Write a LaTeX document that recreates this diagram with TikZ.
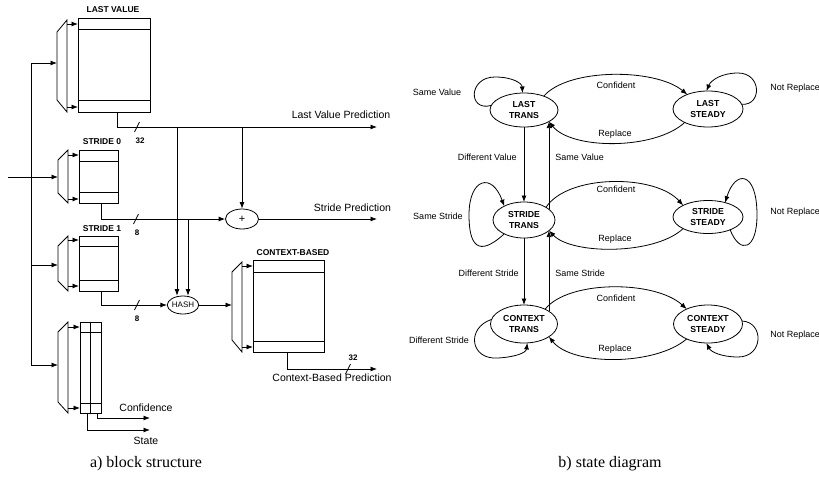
\documentclass[tikz,border=0pt]{standalone}
\usepackage{fontspec}
\setmainfont{Liberation Serif}
\setsansfont{Liberation Sans}
\usetikzlibrary{arrows.meta,shapes.geometric,calc}
\begin{document}
\begin{tikzpicture}[x=1pt,y=-1pt,
  line width=0.8pt,
  arr/.style={-{Latex[length=6.5pt,width=5pt]}},
  blk/.style={draw,rectangle,inner sep=0pt,outer sep=0pt},
  lbl/.style={font=\sffamily\fontsize{10.5}{12}\selectfont,inner sep=0pt},
  blbl/.style={font=\sffamily\bfseries\fontsize{8.5}{10}\selectfont,inner sep=0pt},
  num/.style={font=\sffamily\bfseries\fontsize{8}{9}\selectfont,inner sep=0pt},
  stnode/.style={draw,ellipse,inner sep=0pt,outer sep=0pt,align=center,font=\sffamily\bfseries\fontsize{8.7}{11}\selectfont},
  slbl/.style={font=\sffamily\fontsize{9}{10}\selectfont,inner sep=0pt},
  captxt/.style={font=\fontsize{16}{18}\selectfont,inner sep=0pt}
]
\useasboundingbox (0,0) rectangle (819,480);

% ---------------- a) block structure ----------------
% blocks
\node[blk,minimum width=72pt,minimum height=94pt] (lv) at (114,65) {};
\draw ($(lv.north west)+(0,11)$) -- ($(lv.north east)+(0,11)$);
\draw ($(lv.south west)+(0,-12)$) -- ($(lv.south east)+(0,-12)$);
\node[blbl] (lvl) at (113,10) {LAST VALUE};

\node[blk,minimum width=39pt,minimum height=53pt] (s0) at (98.5,176.5) {};
\draw ($(s0.north west)+(0,11)$) -- ($(s0.north east)+(0,11)$);
\draw ($(s0.south west)+(0,-11)$) -- ($(s0.south east)+(0,-11)$);
\node[blbl] (s0l) at (102,142) {STRIDE 0};

\node[blk,minimum width=39pt,minimum height=55pt] (s1) at (98.5,263.5) {};
\draw ($(s1.north west)+(0,10)$) -- ($(s1.north east)+(0,10)$);
\draw ($(s1.south west)+(0,-11)$) -- ($(s1.south east)+(0,-11)$);
\node[blbl] (s1l) at (102,229) {STRIDE 1};

\node[blk,minimum width=71pt,minimum height=92pt] (cb) at (288.5,306) {};
\draw ($(cb.north west)+(0,12)$) -- ($(cb.north east)+(0,12)$);
\draw ($(cb.south west)+(0,-11)$) -- ($(cb.south east)+(0,-11)$);
\node[blbl] (cbl) at (293,253) {CONTEXT-BASED};

\node[blk,minimum width=21pt,minimum height=91pt] (cs) at (90.5,367.5) {};
\draw (cs.north) -- (cs.south);
\draw ($(cs.north west)+(0,10)$) -- ($(cs.north east)+(0,10)$);
\draw ($(cs.south west)+(0,-10)$) -- ($(cs.south east)+(0,-10)$);

% muxes
\draw (57,32) -- (67,20) -- (67,112) -- (57,100) -- cycle;
\draw (58,160) -- (68,150) -- (68,203) -- (58,193) -- cycle;
\draw (58,246) -- (68,236) -- (68,291) -- (58,281) -- cycle;
\draw (232,272) -- (242,262) -- (242,352) -- (232,340) -- cycle;
\draw (58,332) -- (68,322) -- (68,413) -- (58,402) -- cycle;

\coordinate (lvm1) at (67,24);  \coordinate (lvm2) at (67,107);
\coordinate (s0m1) at (68,155); \coordinate (s0m2) at (68,199);
\coordinate (s1m1) at (68,240); \coordinate (s1m2) at (68,286);
\coordinate (cbm1) at (242,266); \coordinate (cbm2) at (242,347);
\coordinate (csm1) at (68,327); \coordinate (csm2) at (68,408);
\foreach \m/\b in {lvm1/lv,lvm2/lv,s0m1/s0,s0m2/s0,s1m1/s1,s1m2/s1,cbm1/cb,cbm2/cb,csm1/cs,csm2/cs}
  \draw[arr] (\m) -- (\m -| \b.west);

% mux inputs and bus
\coordinate (lvin) at (57,63);
\coordinate (s0in) at (58,177);
\coordinate (s1in) at (58,265);
\coordinate (csin) at (58,365);
\coordinate (cbin) at (232,305);
\coordinate (busT) at (31,63);
\coordinate (busB) at (31,365);
\coordinate (inp) at (8,177);
\draw (busT) -- (busB);
\draw[arr] (busT) -- (lvin);
\draw[arr] (inp) -- (s0in);
\draw[arr] (s1in -| busT) -- (s1in);
\draw[arr] (busB) -- (csin);

% combining nodes
\node[draw,ellipse,minimum width=33pt,minimum height=20pt,inner sep=0pt,
      font=\sffamily\fontsize{11}{12}\selectfont] (plus) at (242,219) {+};
\node[draw,ellipse,minimum width=30pt,minimum height=18pt,inner sep=0pt,
      font=\sffamily\fontsize{8}{9}\selectfont] (hash) at (183,305) {HASH};

% last value output
\coordinate (lvo) at (117,112);
\coordinate (lvp) at (377,127);
\coordinate (j1) at (177,127);
\coordinate (j2) at (242,127);
\draw[arr] (lvo) |- (lvp);
\draw (134.5,132) -- (139.5,122);
\node[num] (n32a) at (140,141) {32};
\draw[arr] (j1) -- (j1 |- hash.north);
\draw[arr] (j2) -- (plus.north);
\node[lbl] (lvpl) at (341,115) {Last Value Prediction};

% stride 0 output
\coordinate (s0o) at (101,203);
\coordinate (j3) at (188,219);
\draw[arr] (s0o) |- (plus.west);
\draw (133.5,224) -- (138.5,214);
\node[num] (n8a) at (137,233) {8};
\draw[arr] (j3) -- (j3 |- hash.north);
\coordinate (spo) at (377,219);
\draw[arr] (plus.east) -- (spo);
\node[lbl] (spl) at (352.5,208) {Stride Prediction};

% stride 1 output
\coordinate (s1o) at (101,291);
\draw[arr] (s1o) |- (hash.west);
\draw (134.5,310) -- (139.5,300);
\node[num] (n8b) at (137,319) {8};
\draw[arr] (hash.east) -- (cbin);

% context-based output
\coordinate (cbo) at (287,352);
\coordinate (cbp) at (377,369);
\draw[arr] (cbo) |- (cbp);
\draw (345.5,374) -- (350.5,364);
\node[num] (n32b) at (353,358) {32};
\node[lbl] (cbpl) at (332,378) {Context-Based Prediction};

% confidence / state outputs
\coordinate (cso1) at (97,413);
\coordinate (cso2) at (87,413);
\coordinate (conf) at (150,418);
\coordinate (stat) at (150,430);
\draw[arr] (cso1) |- (conf);
\draw[arr] (cso2) |- (stat);
\node[lbl] (confl) at (146,408) {Confidence};
\node[lbl] (statl) at (146,441) {State};

\node[captxt] (capa) at (146,464) {a) block structure};

% ---------------- b) state diagram ----------------
\node[stnode,minimum width=68pt,minimum height=34pt] (lt) at (524,110) {LAST\\TRANS};
\node[stnode,minimum width=70pt,minimum height=36pt] (ls) at (708,109) {LAST\\STEADY};
\node[stnode,minimum width=62pt,minimum height=36pt] (sT) at (524,220) {STRIDE\\TRANS};
\node[stnode,minimum width=70pt,minimum height=33pt] (sS) at (708,217) {STRIDE\\STEADY};
\node[stnode,minimum width=67pt,minimum height=38pt] (cT) at (524,324) {CONTEXT\\TRANS};
\node[stnode,minimum width=69pt,minimum height=38pt] (cS) at (708,324) {CONTEXT\\STEADY};

% vertical transitions
\draw[arr] (lt.south) -- (sT.north);
\draw[arr] (sT.south) -- (cT.north);
\draw[arr] (sT.23) -- (sT.23 |- lt.-25);
\draw[arr] (cT.27) -- (cT.27 |- sT.-23);

% confident / replace
\draw[arr] (lt.35) .. controls (568,68) and (655,68) .. (ls.145);
\draw[arr] (ls.-150) .. controls (655,150) and (572,150) .. (lt.-25);
\draw[arr] (sT.30) .. controls (568,174) and (655,174) .. (sS.155);
\draw[arr] (sS.-155) .. controls (655,255) and (572,255) .. (sT.-23);
\draw[arr] (cT.35) .. controls (568,280) and (655,280) .. (cS.145);
\draw[arr] (cS.-145) .. controls (655,366) and (572,366) .. (cT.-27);

% self loops
\draw[arr] (lt.172) .. controls (468,112) and (468,77) .. (495,77) .. controls (512,77) and (522,83) .. (lt.95);
\draw[arr] (ls.8) .. controls (762,106) and (762,73) .. (738,73) .. controls (722,73) and (711,80) .. (ls.95);
\draw[arr] (sT.-145) .. controls (478,258) and (469,245) .. (469,215) .. controls (469,178) and (492,172) .. (sT.145);
\draw[arr] (sS.-30) .. controls (740,255) and (757,250) .. (757,215) .. controls (757,170) and (735,170) .. (sS.40);
\draw[arr] (cT.172) .. controls (466,328) and (470,360) .. (498,358) .. controls (515,357) and (526,353) .. (cT.-80);
\draw[arr] (cS.5) .. controls (764,322) and (764,357) .. (738,357) .. controls (722,357) and (711,352) .. (cS.-95);

% labels
\node[slbl] (l1) at (437,92) {Same Value};
\node[slbl] (l2) at (616,85) {Confident};
\node[slbl] (l3) at (615,134) {Replace};
\node[slbl,anchor=west] (l4) at (770,88) {Not Replace};
\node[slbl,anchor=east] (l5) at (517,157) {Different Value};
\node[slbl,anchor=west] (l6) at (555,157) {Same Value};
\node[slbl] (l7) at (438,216) {Same Stride};
\node[slbl] (l8) at (616,189) {Confident};
\node[slbl] (l9) at (615,239) {Replace};
\node[slbl,anchor=west] (l10) at (770,212) {Not Replace};
\node[slbl,anchor=east] (l11) at (519,273) {Different Stride};
\node[slbl,anchor=west] (l12) at (555,273) {Same Stride};
\node[slbl] (l13) at (439,340) {Different Stride};
\node[slbl] (l14) at (616,298) {Confident};
\node[slbl] (l15) at (615,349) {Replace};
\node[slbl,anchor=west] (l16) at (770,335) {Not Replace};

\node[captxt] (capb) at (610,464) {b) state diagram};
\end{tikzpicture}
\end{document}
